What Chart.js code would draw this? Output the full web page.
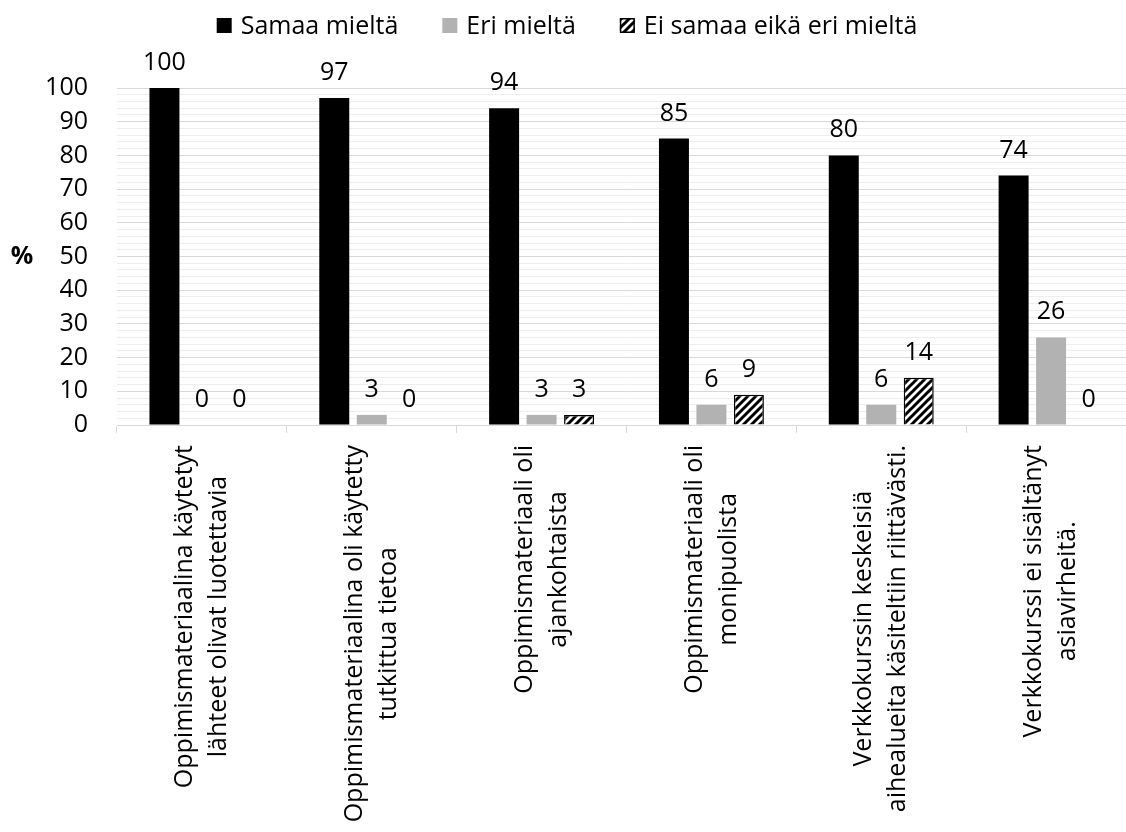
<!DOCTYPE html>
<html>
<head>
<meta charset="utf-8">
<script src="https://cdn.jsdelivr.net/npm/chart.js@4/dist/chart.umd.min.js"></script>
<style>
html, body { margin: 0; padding: 0; background: #fff; overflow: hidden; }
#wrap { width: 1136px; height: 832px; }
</style>
</head>
<body>
<div id="wrap"><canvas id="c" width="1136" height="832"></canvas></div>
<script>
const categories = [
  ["Oppimismateriaalina käytetyt", "lähteet olivat luotettavia"],
  ["Oppimismateriaalina oli käytetty", "tutkittua tietoa"],
  ["Oppimismateriaali oli", "ajankohtaista"],
  ["Oppimismateriaali oli", "monipuolista"],
  ["Verkkokurssin keskeisiä", "aihealueita käsiteltiin riittävästi."],
  ["Verkkokurssi ei sisältänyt", "asiavirheitä."]
];
const seriesNames = ["Samaa mieltä", "Eri mieltä", "Ei samaa eikä eri mieltä"];
const samaa = [100, 97, 94, 85, 80, 74];
const eri = [0, 3, 3, 6, 6, 26];
const eiSamaa = [0, 0, 3, 9, 14, 0];
const yTickValues = [0, 10, 20, 30, 40, 50, 60, 70, 80, 90, 100];
const yAxisTitle = "%";

const FONT = "'Open Sans', sans-serif";
const FS = 25;

function makeHatch() {
  const t = document.createElement('canvas');
  t.width = 8; t.height = 8;
  const g = t.getContext('2d');
  g.fillStyle = '#fff';
  g.fillRect(0, 0, 8, 8);
  g.strokeStyle = '#000';
  g.lineWidth = 3;
  g.lineCap = 'square';
  for (const k of [-8, 0, 8]) {
    g.beginPath();
    g.moveTo(k, 8);
    g.lineTo(k + 8, 0);
    g.stroke();
  }
  return document.getElementById('c').getContext('2d').createPattern(t, 'repeat');
}
const hatch = makeHatch();

const colors = ['#000000', '#b2b2b2', hatch];

const valueLabels = {
  id: 'valueLabels',
  afterDatasetsDraw(chart) {
    const ctx = chart.ctx;
    ctx.save();
    ctx.font = FS + "px " + FONT;
    ctx.fillStyle = '#000';
    ctx.textAlign = 'center';
    ctx.textBaseline = 'alphabetic';
    chart.data.datasets.forEach((ds, di) => {
      const meta = chart.getDatasetMeta(di);
      meta.data.forEach((el, i) => {
        ctx.fillText(String(ds.data[i]), el.x, el.y - 18);
      });
    });
    ctx.restore();
  }
};

const extras = {
  id: 'extras',
  afterDraw(chart) {
    const ctx = chart.ctx;
    const xs = chart.scales.x, ys = chart.scales.y;
    ctx.save();
    // category labels, rotated, lines centred on each other
    ctx.font = FS + "px " + FONT;
    ctx.fillStyle = '#000';
    ctx.textAlign = 'center';
    ctx.textBaseline = 'middle';
    const lineH = 34;
    const topY = xs.top + 20;
    categories.forEach((lines, i) => {
      const cx = xs.getPixelForValue(i);
      const maxW = Math.max(...lines.map(l => ctx.measureText(l).width));
      const cy = topY + maxW / 2;
      lines.forEach((l, j) => {
        const off = (j - (lines.length - 1) / 2) * lineH;
        ctx.save();
        ctx.translate(cx + off, cy);
        ctx.rotate(-Math.PI / 2);
        ctx.fillText(l, 0, 0);
        ctx.restore();
      });
    });
    // y axis title
    ctx.font = "bold " + FS + "px " + FONT;
    ctx.textAlign = 'center';
    ctx.textBaseline = 'middle';
    ctx.fillText(yAxisTitle, 22, ys.getPixelForValue(50));
    // legend
    ctx.font = FS + "px " + FONT;
    ctx.textAlign = 'left';
    ctx.textBaseline = 'alphabetic';
    const box = 15, textGap = 9, itemGap = 44;
    const widths = seriesNames.map(n => box + textGap + ctx.measureText(n).width);
    const total = widths.reduce((a, b) => a + b, 0) + itemGap * (seriesNames.length - 1);
    let x = 567 - total / 2;
    const baseY = 34;
    seriesNames.forEach((n, i) => {
      ctx.fillStyle = colors[i];
      ctx.fillRect(x, baseY - 16, box, box);
      if (i === 2) {
        ctx.strokeStyle = '#000';
        ctx.lineWidth = 1.5;
        ctx.strokeRect(x + 0.75, baseY - 16 + 0.75, box - 1.5, box - 1.5);
      }
      ctx.fillStyle = '#000';
      ctx.fillText(n, x + box + textGap, baseY);
      x += widths[i] + itemGap;
    });
    ctx.restore();
  }
};

new Chart(document.getElementById('c'), {
  type: 'bar',
  data: {
    labels: categories,
    datasets: [
      { label: seriesNames[0], data: samaa, backgroundColor: colors[0], borderWidth: 0 },
      { label: seriesNames[1], data: eri, backgroundColor: colors[1], borderWidth: 0 },
      { label: seriesNames[2], data: eiSamaa, backgroundColor: colors[2], borderColor: '#000', borderWidth: 1.5 }
    ]
  },
  options: {
    responsive: false,
    animation: false,
    layout: { padding: { top: 88, right: 0, left: 0, bottom: 0 } },
    datasets: { bar: { categoryPercentage: 0.662, barPercentage: 0.8 } },
    plugins: { legend: { display: false }, tooltip: { enabled: false }, title: { display: false } },
    scales: {
      x: {
        grid: { offset: true, drawOnChartArea: false, drawTicks: true, tickLength: 8, color: '#d9d9d9', lineWidth: 1 },
        border: { display: true, color: '#d9d9d9', width: 1 },
        ticks: { callback: () => '', maxRotation: 0, minRotation: 0 },
        afterFit(s) { s.height = 407; }
      },
      y: {
        min: 0, max: 100,
        grid: {
          drawTicks: false,
          color: (c) => (c.tick && c.tick.value % 10 === 0) ? '#d9d9d9' : '#eeeeee',
          lineWidth: 1
        },
        border: { display: false },
        ticks: {
          stepSize: 2,
          autoSkip: false,
          padding: 29,
          color: '#000',
          font: { family: FONT, size: FS },
          callback: (v) => yTickValues.includes(v) ? String(v) : ''
        },
        afterFit(s) { s.width = 117; }
      }
    }
  },
  plugins: [valueLabels, extras]
});
</script>
</body>
</html>
